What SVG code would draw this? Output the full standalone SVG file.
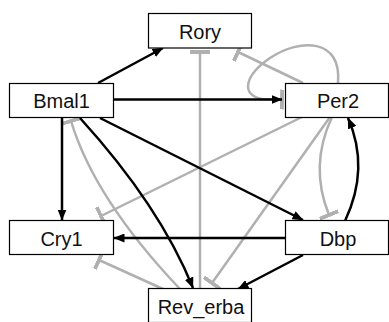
<svg xmlns="http://www.w3.org/2000/svg" width="389" height="322" viewBox="0 0 389 322">
<style>
.node rect{fill:#fff;stroke:#000;stroke-width:1.2}
.node text{font-family:"Liberation Sans",Arial,sans-serif;font-size:20px;fill:#111;text-anchor:middle}
.act{fill:none;stroke:#000;stroke-width:2.5;marker-end:url(#arrow)}
.inh{fill:none;stroke:#b0b0b0;stroke-width:2.5;marker-end:url(#tee)}
</style>
<defs>
<marker id="arrow" markerUnits="userSpaceOnUse" viewBox="0 0 11 9" markerWidth="11" markerHeight="9" refX="10.5" refY="4.5" orient="auto">
<path d="M0,0 L11,4.5 L0,9 z" fill="#000"/>
</marker>
<marker id="tee" markerUnits="userSpaceOnUse" viewBox="-2 -10 4 20" markerWidth="4" markerHeight="20" refX="0" refY="0" orient="auto">
<rect x="-2" y="-10" width="4" height="20" fill="#b0b0b0"/>
</marker>
</defs>
<g id="connectors">
<path class="inh" d="M200,288 L200,52"/>
<path class="inh" d="M303,83 L238,52"/>
<path class="inh" d="M338,83 C342,38 300,38 270,58 C245,75 240,95 262,99 L282,99.5"/>
<path class="inh" d="M302,117 L101,216"/>
<path class="inh" d="M332,117 Q309,166 329,215"/>
<path class="inh" d="M330,117 L212,283"/>
<path class="inh" d="M180,289 Q94.5,199 71,121"/>
<path class="inh" d="M163,289 L99,260"/>
<path class="act" d="M98,83 L163,48"/>
<path class="act" d="M114,99.5 L282,99.5"/>
<path class="act" d="M62,118 L62,220"/>
<path class="act" d="M100,118 L303,220"/>
<path class="act" d="M80,118 Q160,206 193,288"/>
<path class="act" d="M286,238 L114,238"/>
<path class="act" d="M303,255 L238,289"/>
<path class="act" d="M345,221 Q370,168 348,118"/>
</g>
<g id="Rory" class="node"><rect x="148.5" y="13.5" width="103" height="34.5"/><text x="200" y="39">Rory</text></g>
<g id="Bmal1" class="node"><rect x="9.5" y="83.5" width="104" height="34"/><text x="61.5" y="108">Bmal1</text></g>
<g id="Per2" class="node"><rect x="285.5" y="83.5" width="103" height="34"/><text x="338" y="108">Per2</text></g>
<g id="Cry1" class="node"><rect x="9.5" y="220.5" width="104" height="34"/><text x="61.5" y="246">Cry1</text></g>
<g id="Dbp" class="node"><rect x="285.5" y="220.5" width="103" height="34"/><text x="338" y="246">Dbp</text></g>
<g id="Rev_erba" class="node"><rect x="148.5" y="288.5" width="103" height="34"/><text x="201" y="314">Rev_erba</text></g>
</svg>
